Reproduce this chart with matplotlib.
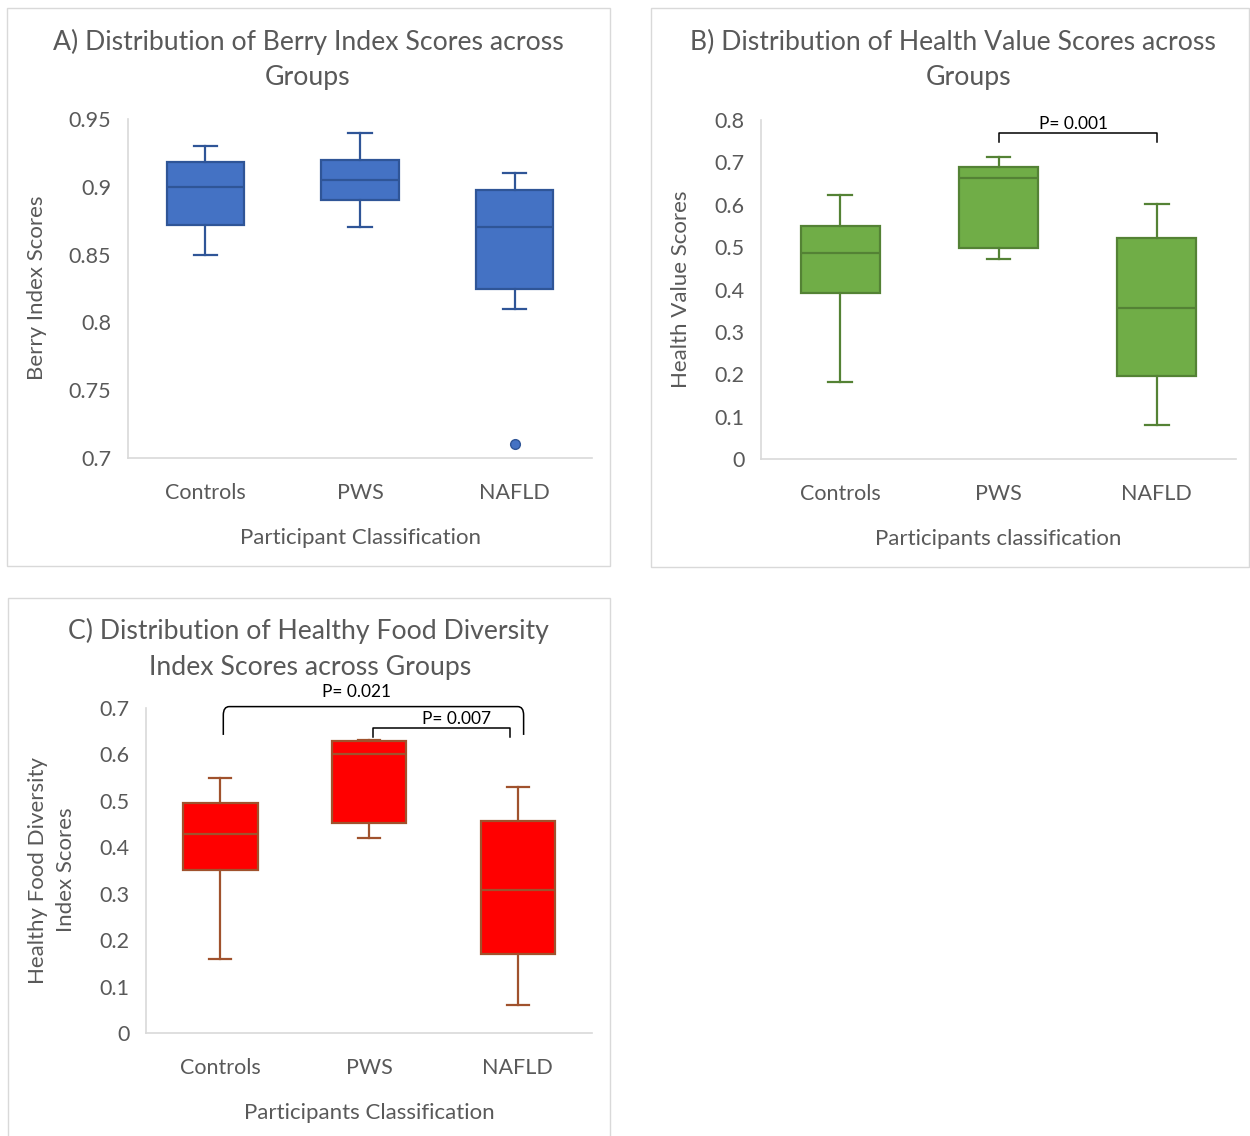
import matplotlib.pyplot as plt
from matplotlib.patches import Rectangle
from matplotlib.path import Path
from matplotlib.patches import PathPatch

plt.rcParams['font.family'] = ['Lato', 'DejaVu Sans']

W, H = 1250, 1136
TXT = '#595959'
GRID = '#D9D9D9'

groups = ['Controls', 'PWS', 'NAFLD']

# box stats: lower whisker, Q1, median, Q3, upper whisker
berry_lo = [0.850, 0.870, 0.810]
berry_q1 = [0.872, 0.890, 0.825]
berry_med = [0.900, 0.905, 0.870]
berry_q3 = [0.918, 0.920, 0.898]
berry_hi = [0.930, 0.940, 0.910]
berry_out = [[], [], [0.71]]

hv_lo = [0.181, 0.472, 0.080]
hv_q1 = [0.391, 0.499, 0.197]
hv_med = [0.486, 0.662, 0.356]
hv_q3 = [0.550, 0.689, 0.522]
hv_hi = [0.622, 0.712, 0.601]
hv_out = [[], [], []]

hfd_lo = [0.159, 0.419, 0.060]
hfd_q1 = [0.351, 0.452, 0.170]
hfd_med = [0.429, 0.601, 0.309]
hfd_q3 = [0.496, 0.629, 0.457]
hfd_hi = [0.550, 0.631, 0.530]
hfd_out = [[], [], []]

# significance brackets: (from group, to group, bracket height, p label)
hv_pvals = [(1, 2, 0.769, 'P= 0.001')]
hfd_pvals = [(0, 2, 0.703, 'P= 0.021'), (1, 2, 0.656, 'P= 0.007')]

TITLE_FS = 19.2
LABEL_FS = 16
TICK_FS = 15.5


def px_axes(fig, x0, y0, x1, y1):
    return fig.add_axes([x0 / W, 1 - y1 / H, (x1 - x0) / W, (y1 - y0) / H])


def ftext(fig, x, y, s, **kw):
    kw.setdefault('color', TXT)
    kw.setdefault('ha', 'center')
    kw.setdefault('va', 'center')
    fig.text(x / W, 1 - y / H, s, **kw)


def draw_boxes(ax, lo, q1, med, q3, hi, out, face, edge):
    stats = []
    for i in range(len(groups)):
        stats.append(dict(whislo=lo[i], q1=q1[i], med=med[i], q3=q3[i],
                          whishi=hi[i], fliers=out[i]))
    ax.bxp(stats, positions=[1, 2, 3], widths=0.5, patch_artist=True,
           capwidths=0.15,
           boxprops=dict(facecolor=face, edgecolor=edge, linewidth=1.6),
           medianprops=dict(color=edge, linewidth=1.6),
           whiskerprops=dict(color=edge, linewidth=1.6),
           capprops=dict(color=edge, linewidth=1.6),
           flierprops=dict(marker='o', markerfacecolor=face,
                           markeredgecolor=edge, markersize=7))


def style_axes(ax, ylim, yticks, ylabels):
    ax.set_xlim(0.5, 3.5)
    ax.set_ylim(*ylim)
    ax.set_yticks(yticks)
    ax.set_yticklabels(ylabels)
    ax.set_xticks([1, 2, 3])
    ax.set_xticklabels(groups)
    for s in ['top', 'right']:
        ax.spines[s].set_visible(False)
    for s in ['left', 'bottom']:
        ax.spines[s].set_color(GRID)
        ax.spines[s].set_linewidth(1.2)
    ax.tick_params(axis='y', length=0, pad=12, labelsize=TICK_FS, labelcolor=TXT)
    ax.tick_params(axis='x', length=0, pad=18, labelsize=TICK_FS, labelcolor=TXT)
    ax.set_facecolor('none')


def bracket(ax, x0, x1, y, leg, label, dy, dx=0.0, rounded=False):
    if rounded:
        rx, ry = 0.04, leg * 0.3
        verts = [(x0, y - leg), (x0, y - ry), (x0, y), (x0 + rx, y),
                 (x1 - rx, y), (x1, y), (x1, y - ry), (x1, y - leg)]
        codes = [Path.MOVETO, Path.LINETO, Path.CURVE3, Path.CURVE3,
                 Path.LINETO, Path.CURVE3, Path.CURVE3, Path.LINETO]
        ax.add_patch(PathPatch(Path(verts, codes), fill=False,
                               edgecolor='black', linewidth=1.1,
                               clip_on=False))
    else:
        ax.plot([x0, x0, x1, x1], [y - leg, y, y, y - leg], color='black',
                linewidth=1.1, clip_on=False)
    ax.text((x0 + x1) / 2 + dx, y + dy, label, ha='center', va='center',
            fontsize=12.5, color='black', clip_on=False)


fig = plt.figure(figsize=(W / 100, H / 100), dpi=100)

# panel frames
for x0, y0, x1, y1 in [(7, 8, 610, 566), (651, 8, 1249, 567),
                       (8, 598, 610, 1150)]:
    fig.patches.append(Rectangle((x0 / W, 1 - y1 / H), (x1 - x0) / W,
                                 (y1 - y0) / H, transform=fig.transFigure,
                                 fill=False, edgecolor=GRID, linewidth=1.0))

# A) Berry index
axA = px_axes(fig, 128, 119, 592, 458)
draw_boxes(axA, berry_lo, berry_q1, berry_med, berry_q3, berry_hi,
           berry_out, '#4472C4', '#2F5597')
style_axes(axA, (0.7, 0.95), [0.7, 0.75, 0.8, 0.85, 0.9, 0.95],
           ['0.7', '0.75', '0.8', '0.85', '0.9', '0.95'])
ftext(fig, 308, 42, 'A) Distribution of Berry Index Scores across', fontsize=TITLE_FS)
ftext(fig, 308, 78, 'Groups', fontsize=TITLE_FS)
ftext(fig, 360, 538, 'Participant Classification', fontsize=LABEL_FS)
ftext(fig, 37, 288, 'Berry Index Scores', fontsize=LABEL_FS, rotation=90)

# B) Health value
axB = px_axes(fig, 761, 120, 1236, 459)
draw_boxes(axB, hv_lo, hv_q1, hv_med, hv_q3, hv_hi, hv_out,
           '#70AD47', '#548235')
style_axes(axB, (0, 0.8), [0, 0.1, 0.2, 0.3, 0.4, 0.5, 0.6, 0.7, 0.8],
           ['0', '0.1', '0.2', '0.3', '0.4', '0.5', '0.6', '0.7', '0.8'])
for g0, g1, y, lab in hv_pvals:
    bracket(axB, g0 + 1, g1 + 1, y, 0.021, lab, 0.022, dx=-0.025)
ftext(fig, 953, 42, 'B) Distribution of Health Value Scores across', fontsize=TITLE_FS)
ftext(fig, 969, 78, 'Groups', fontsize=TITLE_FS)
ftext(fig, 998, 539, 'Participants classification', fontsize=LABEL_FS)
ftext(fig, 681, 289, 'Health Value Scores', fontsize=LABEL_FS, rotation=90)

# C) Healthy food diversity
axC = px_axes(fig, 146, 708, 592, 1033)
draw_boxes(axC, hfd_lo, hfd_q1, hfd_med, hfd_q3, hfd_hi, hfd_out,
           '#FF0000', '#A0522D')
style_axes(axC, (0, 0.7), [0, 0.1, 0.2, 0.3, 0.4, 0.5, 0.6, 0.7],
           ['0', '0.1', '0.2', '0.3', '0.4', '0.5', '0.6', '0.7'])
bracket(axC, hfd_pvals[0][0] + 1.02, hfd_pvals[0][1] + 1.04, hfd_pvals[0][2],
        0.061, hfd_pvals[0][3], 0.031, dx=-0.115, rounded=True)
bracket(axC, hfd_pvals[1][0] + 1.03, hfd_pvals[1][1] + 0.95, hfd_pvals[1][2],
        0.019, hfd_pvals[1][3], 0.021, dx=0.10)
ftext(fig, 308, 631, 'C) Distribution of Healthy Food Diversity', fontsize=TITLE_FS)
ftext(fig, 310, 667, 'Index Scores across Groups', fontsize=TITLE_FS)
ftext(fig, 369, 1113, 'Participants Classification', fontsize=LABEL_FS)
ftext(fig, 52, 870, 'Healthy Food Diversity\nIndex Scores', fontsize=LABEL_FS,
      rotation=90, linespacing=1.45)

fig.savefig('out.png', dpi=100, facecolor='white')
